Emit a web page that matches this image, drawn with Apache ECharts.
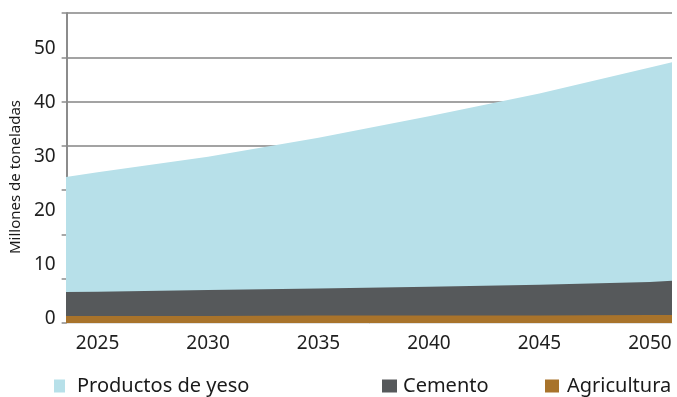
<!DOCTYPE html>
<html lang="es">
<head>
  <meta charset="UTF-8">
  <title>Millones de toneladas</title>
  <style>
    html, body { margin: 0; padding: 0; overflow: hidden; background: #fff; }
    #chart { width: 677px; height: 397px; }
  </style>
</head>
<body>
  <div id="chart"></div>
</body>
<script src="https://cdn.jsdelivr.net/npm/echarts@6/dist/echarts.min.js"></script>
<script>
  // años y valores (millones de toneladas)
  var years = [2023, 2025, 2030, 2035, 2040, 2045, 2050, 2051];
  var agricultura = [1.3, 1.3, 1.3, 1.4, 1.4, 1.4, 1.5, 1.5];
  var cemento = [4.4, 4.5, 4.8, 5.0, 5.3, 5.7, 6.1, 6.3];
  var yeso = [21.0, 22.1, 24.7, 27.9, 31.6, 35.4, 39.7, 40.5];

  var yearLabels = [2025, 2030, 2035, 2040, 2045, 2050];
  var valueLabels = [0, 10, 20, 30, 40, 50];

  var font = 'Noto Sans';

  // apilado a mano: cada área se dibuja desde el eje hasta su suma acumulada
  function stacked(layers) {
    return years.map(function (y, i) {
      var s = 0;
      layers.forEach(function (l) { s += l[i]; });
      return [y, +s.toFixed(2)];
    });
  }

  const myChart = echarts.init(document.querySelector('#chart'));

  function areaSeries(name, color, data) {
    return {
      name: name,
      type: 'line',
      yAxisIndex: 1,
      symbol: 'none',
      lineStyle: { width: 0 },
      itemStyle: { color: color },
      areaStyle: { color: color, opacity: 1, origin: 'start' },
      data: data
    };
  }

  function legendText(gap) {
    return { fontFamily: font, fontSize: 20, color: '#1a1a1a', padding: [0, 0, 0, gap] };
  }

  var option = {
    animation: false,
    grid: { left: 64, right: 5, top: 13, bottom: 74 },
    legend: [
      { left: 54, top: 376, padding: 0, itemWidth: 11, itemHeight: 13, icon: 'rect',
        data: ['Productos de yeso'], textStyle: legendText(7) },
      { left: 382, top: 376, padding: 0, itemWidth: 15, itemHeight: 13, icon: 'rect',
        data: ['Cemento'], textStyle: legendText(1) },
      { left: 545, top: 376, padding: 0, itemWidth: 14, itemHeight: 13, icon: 'rect',
        data: ['Agricultura'], textStyle: legendText(3) }
    ],
    xAxis: {
      type: 'value',
      min: 2023.6,
      max: 2051,
      splitLine: { show: false },
      axisTick: { show: false },
      axisLine: { show: true, lineStyle: { color: '#e2e2e2', width: 1 } },
      axisLabel: {
        customValues: yearLabels,
        formatter: function (v) { return String(v); },
        margin: 11,
        fontFamily: font,
        fontSize: 19,
        color: '#1f1f1f'
      }
    },
    yAxis: [
      {
        // líneas de la cuadrícula
        type: 'value',
        min: 0,
        max: 70,
        interval: 10,
        position: 'left',
        axisLine: { show: true, lineStyle: { color: '#8c8c8c', width: 2 } },
        axisTick: { show: true, inside: false, length: 5, lineStyle: { color: '#8c8c8c', width: 1.5 } },
        splitLine: { show: true, lineStyle: { color: '#a3a3a3', width: 2 } },
        axisLabel: { show: false }
      },
      {
        type: 'value',
        min: 0,
        max: 57.4,
        position: 'left',
        name: 'Millones de toneladas',
        nameLocation: 'middle',
        nameGap: 35,
        nameRotate: 90,
        nameTextStyle: { fontFamily: font, fontSize: 15, color: '#1a1a1a', padding: [0, 18, 0, 0] },
        axisLine: { show: false },
        axisTick: { show: false },
        splitLine: { show: false },
        axisLabel: {
          customValues: valueLabels,
          verticalAlign: 'bottom',
          lineHeight: 8,
          margin: 11,
          fontFamily: font,
          fontSize: 19,
          color: '#1f1f1f'
        }
      }
    ],
    series: [
      areaSeries('Productos de yeso', '#b7e0e9', stacked([agricultura, cemento, yeso])),
      areaSeries('Cemento', '#56595b', stacked([agricultura, cemento])),
      areaSeries('Agricultura', '#a8732b', stacked([agricultura]))
    ]
  };

  myChart.setOption(option);
</script>
</html>
